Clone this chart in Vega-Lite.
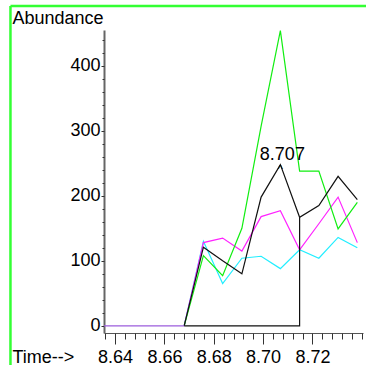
{
  "$schema": "https://vega.github.io/schema/vega-lite/v6.json",
  "width": 259,
  "height": 303,
  "autosize": {"type": "none"},
  "padding": {"left": 104, "top": 30, "right": 3, "bottom": 32},
  "background": "white",
  "config": {
    "view": {"stroke": null},
    "font": "Liberation Sans",
    "axis": {"grid": false, "labelFont": "Liberation Sans", "titleFont": "Liberation Sans"}
  },
  "resolve": {"axis": {"x": "independent", "y": "independent"}},
  "layer": [
    {
      "data": {"values": [
        {"x1": 8.59758, "x2": 8.59758, "y1": 491.9, "y2": -65, "w": "v"},
        {"x1": 8.59758, "x2": 8.745, "y1": 491.9, "y2": 491.9, "w": "h"}
      ]},
      "mark": {"type": "rule", "clip": false, "color": "#33ff33", "strokeWidth": 2.5},
      "encoding": {
        "x": {"field": "x1", "type": "quantitative", "axis": null, "scale": {"domain": [8.6355, 8.7405], "nice": false, "zero": false}},
        "x2": {"field": "x2"},
        "y": {"field": "y1", "type": "quantitative", "axis": null, "scale": {"domain": [-11, 455], "nice": false, "zero": false}},
        "y2": {"field": "y2"},
        "strokeWidth": {"field": "w", "type": "nominal", "scale": {"domain": ["v", "h"], "range": [3, 1.5]}, "legend": null}
      }
    },
    {
      "data": {"values": [
        {"s": "cyan", "k": 0, "t": 8.668, "v": 0},
        {"s": "cyan", "k": 1, "t": 8.6758, "v": 130},
        {"s": "cyan", "k": 2, "t": 8.6836, "v": 65},
        {"s": "cyan", "k": 3, "t": 8.6914, "v": 104},
        {"s": "cyan", "k": 4, "t": 8.6992, "v": 107},
        {"s": "cyan", "k": 5, "t": 8.707, "v": 88},
        {"s": "cyan", "k": 6, "t": 8.7148, "v": 117},
        {"s": "cyan", "k": 7, "t": 8.7226, "v": 104},
        {"s": "cyan", "k": 8, "t": 8.7304, "v": 136},
        {"s": "cyan", "k": 9, "t": 8.7382, "v": 120},
        {"s": "magenta", "k": 0, "t": 8.668, "v": 0},
        {"s": "magenta", "k": 1, "t": 8.6758, "v": 128},
        {"s": "magenta", "k": 2, "t": 8.6836, "v": 135},
        {"s": "magenta", "k": 3, "t": 8.6914, "v": 115},
        {"s": "magenta", "k": 4, "t": 8.6992, "v": 168},
        {"s": "magenta", "k": 5, "t": 8.707, "v": 177},
        {"s": "magenta", "k": 6, "t": 8.7148, "v": 117},
        {"s": "magenta", "k": 7, "t": 8.7226, "v": 157},
        {"s": "magenta", "k": 8, "t": 8.7304, "v": 198},
        {"s": "magenta", "k": 9, "t": 8.7382, "v": 128},
        {"s": "green", "k": 0, "t": 8.668, "v": 0},
        {"s": "green", "k": 1, "t": 8.6758, "v": 108},
        {"s": "green", "k": 2, "t": 8.6836, "v": 77},
        {"s": "green", "k": 3, "t": 8.6914, "v": 150},
        {"s": "green", "k": 4, "t": 8.6992, "v": 307},
        {"s": "green", "k": 5, "t": 8.707, "v": 454},
        {"s": "green", "k": 6, "t": 8.7148, "v": 238},
        {"s": "green", "k": 7, "t": 8.7226, "v": 238},
        {"s": "green", "k": 8, "t": 8.7304, "v": 149},
        {"s": "green", "k": 9, "t": 8.7382, "v": 190},
        {"s": "black", "k": 0, "t": 8.668, "v": 0},
        {"s": "black", "k": 1, "t": 8.6758, "v": 121},
        {"s": "black", "k": 2, "t": 8.6836, "v": 100},
        {"s": "black", "k": 3, "t": 8.6914, "v": 80},
        {"s": "black", "k": 4, "t": 8.6992, "v": 198},
        {"s": "black", "k": 5, "t": 8.707, "v": 248},
        {"s": "black", "k": 6, "t": 8.7148, "v": 167},
        {"s": "black", "k": 7, "t": 8.7226, "v": 185},
        {"s": "black", "k": 8, "t": 8.7304, "v": 230},
        {"s": "black", "k": 9, "t": 8.7382, "v": 194},
        {"s": "baseline", "k": 0, "t": 8.668, "v": 0},
        {"s": "baseline", "k": 1, "t": 8.7148, "v": 0},
        {"s": "baseline", "k": 2, "t": 8.7148, "v": 167},
        {"s": "zero", "k": 0, "t": 8.629, "v": 0},
        {"s": "zero", "k": 1, "t": 8.6368, "v": 0},
        {"s": "zero", "k": 2, "t": 8.6446, "v": 0},
        {"s": "zero", "k": 3, "t": 8.6524, "v": 0},
        {"s": "zero", "k": 4, "t": 8.6602, "v": 0},
        {"s": "zero", "k": 5, "t": 8.668, "v": 0}
      ]},
      "mark": {"type": "line", "strokeWidth": 1.2, "clip": true},
      "encoding": {
        "x": {
          "field": "t", "type": "quantitative",
          "scale": {"domain": [8.6355, 8.7405], "nice": false, "zero": false},
          "axis": {
            "values": [8.64, 8.66, 8.68, 8.70, 8.72], "format": ".2f",
            "tickSize": 11, "tickColor": "#333", "tickWidth": 1,
            "domainColor": "#555", "domainWidth": 1,
            "labelFontSize": 18, "labelColor": "#000", "labelPadding": 4, "labelFlush": false, "labelOverlap": false,
            "title": "Time-->", "titleFontSize": 18, "titleFontWeight": "normal", "titleColor": "#000",
            "titleAlign": "left", "titleBaseline": "alphabetic", "titleAnchor": null, "titleX": -92, "titleY": 29
          }
        },
        "y": {
          "field": "v", "type": "quantitative",
          "scale": {"domain": [-11, 455], "nice": false, "zero": false},
          "axis": {
            "values": [0, 100, 200, 300, 400],
            "tickSize": 3, "tickColor": "#333",
            "domainColor": "#666", "domainWidth": 2,
            "labelFontSize": 18, "labelColor": "#000", "labelPadding": 1, "labelFlush": false,
            "title": "Abundance", "titleFontSize": 18, "titleFontWeight": "normal", "titleColor": "#000",
            "titleAngle": 0, "titleAlign": "left", "titleBaseline": "alphabetic", "titleAnchor": null, "titleX": -92, "titleY": -7
          }
        },
        "color": {
          "field": "s", "type": "nominal",
          "scale": {"domain": ["cyan", "magenta", "green", "black", "baseline", "zero"], "range": ["#22eeff", "#ff22ff", "#11ee11", "#111111", "#111111", "#9b5cdc"]},
          "legend": null
        },
        "strokeWidth": {
          "field": "s", "type": "nominal",
          "scale": {"domain": ["cyan", "magenta", "green", "black", "baseline", "zero"], "range": [1.2, 1.2, 1.3, 1.2, 1.2, 2.5]},
          "legend": null
        },
        "order": {"field": "k", "type": "quantitative"}
      }
    },
    {
      "data": {"values": [{"t": 8.707, "v": 248, "lab": "8.707"}]},
      "mark": {"type": "text", "fontSize": 18, "dx": 2, "dy": -5, "baseline": "alphabetic", "align": "center", "color": "#000"},
      "encoding": {
        "x": {
          "field": "t", "type": "quantitative",
          "axis": {
            "values": [8.636, 8.64, 8.644, 8.648, 8.652, 8.656, 8.66, 8.664, 8.668, 8.672, 8.676, 8.68, 8.684, 8.688, 8.692, 8.696, 8.7, 8.704, 8.708, 8.712, 8.716, 8.72, 8.724, 8.728, 8.732, 8.736, 8.74],
            "tickSize": 6, "tickColor": "#333", "labels": false, "domain": false, "title": null, "orient": "bottom"
          }
        },
        "y": {
          "field": "v", "type": "quantitative",
          "axis": {
            "values": [0, 20, 40, 60, 80, 100, 120, 140, 160, 180, 200, 220, 240, 260, 280, 300, 320, 340, 360, 380, 400, 420, 440],
            "tickSize": 2, "tickColor": "#333", "labels": false, "domain": false, "title": null, "orient": "left"
          }
        },
        "text": {"field": "lab"}
      }
    },
    {
      "data": {"values": [{"t": 8.707, "v": 248, "lab": "^"}]},
      "mark": {"type": "text", "fontSize": 11, "dy": 8, "baseline": "alphabetic", "align": "center", "color": "#000"},
      "encoding": {
        "x": {"field": "t", "type": "quantitative", "axis": null},
        "y": {"field": "v", "type": "quantitative", "axis": null},
        "text": {"field": "lab"}
      }
    }
  ]
}
